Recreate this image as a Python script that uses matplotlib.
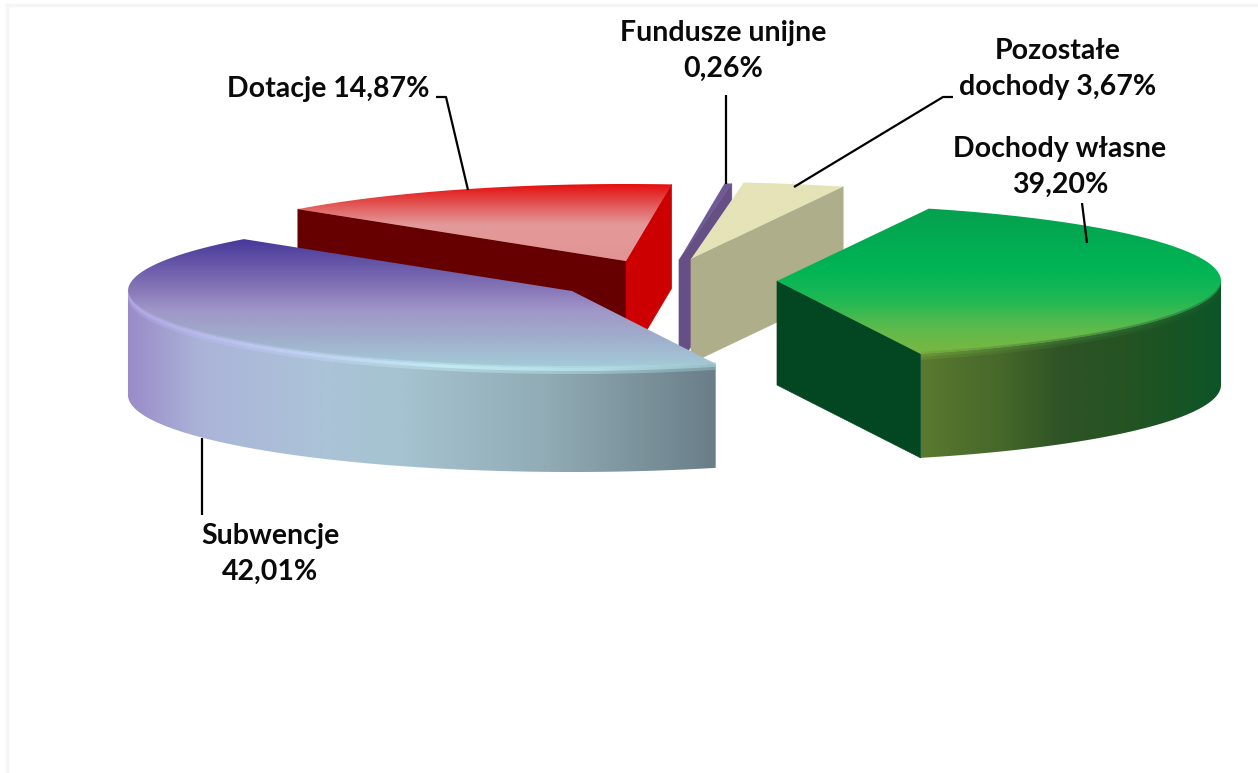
import numpy as np
import matplotlib
matplotlib.use("Agg")
import matplotlib.pyplot as plt
from matplotlib.colors import LinearSegmentedColormap
from matplotlib.patches import Polygon

# clockwise from the start angle
names = ["Dochody własne", "Subwencje", "Dotacje", "Fundusze unijne", "Pozostałe\ndochody"]
shares = [39.20, 42.01, 14.87, 0.26, 3.67]

plt.rcParams["font.family"] = ["Lato", "DejaVu Sans"]

W, H = 1258, 773
RX, RY, DEPTH = 444, 77, 104
START = 70

fig = plt.figure(figsize=(W / 100, H / 100), dpi=100)
ax = fig.add_axes([0, 0, 1, 1])
ax.axis("off")

angles = START - np.cumsum([0] + shares) * 3.6


def arc(c, a0, a1, drop=0):
    t = np.radians(np.linspace(a0, a1, 240))
    return np.column_stack([c[0] + RX * np.cos(t), c[1] - RY * np.sin(t) + drop])


def gradient_fill(pts, stops, vertical, z, alpha=1.0):
    # paint a gradient image and clip it to the polygon
    x0, x1 = pts[:, 0].min(), pts[:, 0].max()
    y0, y1 = pts[:, 1].min(), pts[:, 1].max()
    lo, hi = (y0, y1) if vertical else (x0, x1)
    pos = [(np.clip((p - lo) / (hi - lo), 0, 1), col) for p, col in stops]
    pos[0] = (0, pos[0][1])
    pos[-1] = (1, pos[-1][1])
    cmap = LinearSegmentedColormap.from_list("g", pos)
    ramp = np.linspace(0, 1, 512)
    ramp = ramp[:, None] if vertical else ramp[None, :]
    im = ax.imshow(ramp, cmap=cmap, extent=[x0, x1, y1, y0], aspect="auto",
                   interpolation="bilinear", zorder=z, alpha=alpha)
    patch = Polygon(pts, closed=True, fc="none", ec="none", transform=ax.transData)
    ax.add_patch(patch)
    im.set_clip_path(patch)


def draw_slice(i, c, top, z, faces=(None, None), wall=None, rim=None):
    a0, a1 = angles[i], angles[i + 1]
    c = np.array(c, float)
    # flat cut faces, first the one at a0, then the one at a1
    for ang, col in zip((a0, a1), faces):
        if col is None:
            continue
        p = arc(c, ang, ang)[0]
        ax.add_patch(Polygon([c, p, p + [0, DEPTH], c + [0, DEPTH]], closed=True,
                             fc=col, ec=col, lw=0.5, zorder=z))
    if wall is not None:
        # outer wall only on the front half of the ellipse
        w0, w1 = min(a0, 0), max(a1, -180)
        gradient_fill(np.vstack([arc(c, w0, w1), arc(c, w1, w0, DEPTH)]), wall, False, z + 0.1)
    gradient_fill(np.vstack([c[None, :], arc(c, a0, a1)]), top, True, z + 0.3)
    if rim is not None:
        # soft bevel straddling the front edge
        gradient_fill(np.vstack([arc(c, w0, w1, -2), arc(c, w1, w0, 6)]), rim, False, z + 0.4, 0.45)
        gradient_fill(np.vstack([arc(c, w0, w1, 0), arc(c, w1, w0, 3)]), rim, False, z + 0.5, 0.8)


# Dotacje
draw_slice(2, (626, 261),
           [(187, "#E60E0E"), (205, "#E25858"), (225, "#E49A9A"), (261, "#E29494")],
           1, faces=("#660000", "#CC0000"))
# Fundusze unijne
draw_slice(3, (679, 260), [(185, "#6F5A96"), (260, "#6F5A96")], 2,
           faces=(None, "#664F85"))
# Pozostale
draw_slice(4, (691, 259), [(185, "#E5E3B8"), (259, "#E5E3B8")], 3,
           faces=(None, "#AEAE8B"))
# Dochody wlasne
draw_slice(0, (777, 281),
           [(209, "#05A04E"), (270, "#00B555"), (300, "#20B855"), (330, "#60BB4C"), (358, "#7CB642")],
           4, faces=(None, "#034722"),
           wall=[(921, "#5A7A30"), (1000, "#46682A"), (1060, "#2F5326"), (1130, "#245322"), (1221, "#0C5528")],
           rim=[(921, "#6E9A38"), (1060, "#3C7030"), (1221, "#125A2A")])
# Subwencje
draw_slice(1, (572, 291),
           [(239, "#47389A"), (290, "#8878B8"), (310, "#A096C8"), (340, "#A0B0CC"), (368, "#A4CCD8")],
           5,
           wall=[(128, "#9A8CC8"), (200, "#ABB4D8"), (320, "#ABC3D8"), (400, "#A5C3D0"), (550, "#90ABB4"), (716, "#6A7E88")],
           rim=[(128, "#B4A8E8"), (250, "#C0C8F4"), (450, "#C8F0F8"), (600, "#B8E4EC"), (716, "#9CC8D0")])

ax.set_xlim(0, W)
ax.set_ylim(H, 0)

# leader lines
for xs, ys in [([436, 446, 468], [97, 97, 190]),
               ([726, 726], [95, 184]),
               ([953, 943, 794], [97, 97, 187]),
               ([1082, 1087], [203, 243]),
               ([201.5, 201.5], [438, 515])]:
    ax.plot(xs, ys, color="black", lw=1.6, zorder=8, solid_capstyle="butt")

labels = [f"{n}{' ' if '\n' in n else chr(10)}{s:.2f}%".replace(".", ",")
          for n, s in zip(names, shares)]
labels[2] = labels[2].replace("\n", " ")

label_pos = [(1060, 167), (270, 554), (328, 89), (723, 51), (1058, 69)]
for txt, (x, y) in zip(labels, label_pos):
    ax.text(x, y, txt, ha="center", va="center", fontsize=20.5, fontweight="bold",
            color="#0A0A0A", linespacing=1.48, zorder=9)

# faint frame of the pasted picture
ax.plot([6.5, 6.5], [H, 5], color="#F5F5F5", lw=2.5, zorder=0)
ax.plot([6.5, W], [5, 5], color="#F5F5F5", lw=2.5, zorder=0)

fig.savefig("out.png", dpi=100)
